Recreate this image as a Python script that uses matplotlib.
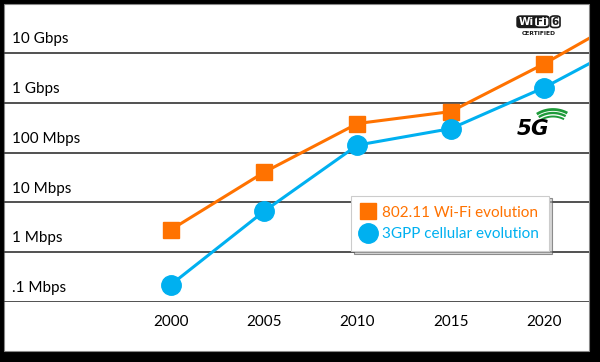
import matplotlib
matplotlib.use("Agg")
import matplotlib.pyplot as plt
from matplotlib.lines import Line2D
from matplotlib.patches import Rectangle, FancyBboxPatch
import numpy as np

# ---- data ----
years = [2000, 2005, 2010, 2015, 2020]
wifi_mbps = [1.4, 20, 190, 330, 3000]
cell_mbps = [0.11, 3.3, 70, 150, 1000]
edge_year = 2022.4
wifi_edge_mbps = 9700
cell_edge_mbps = 3000

ytick_vals = [0.1, 1, 10, 100, 1000, 10000]
ytick_labels = [".1 Mbps", "1 Mbps", "10 Mbps", "100 Mbps", "1 Gbps", "10 Gbps"]
xtick_vals = [2000, 2005, 2010, 2015, 2020]
xtick_labels = ["2000", "2005", "2010", "2015", "2020"]
wifi_label = "802.11 Wi-Fi evolution"
cell_label = "3GPP cellular evolution"

ORANGE = "#FF7200"
BLUE = "#00B0F0"
FONT = "Lato"

W, H = 600, 362
fig = plt.figure(figsize=(6, 3.62), dpi=100, facecolor="black")

def fx(px):
    return px / W

def fy(py):
    return 1 - py / H

# white panel
bg = Rectangle((fx(4), fy(351)), fx(589) - fx(4), fy(4) - fy(351),
               transform=fig.transFigure, facecolor="white",
               edgecolor="#888888", linewidth=0.8, zorder=-10)
fig.add_artist(bg)

ax = fig.add_axes([fx(4), fy(302), fx(589) - fx(4), fy(4) - fy(302)])
ax.set_zorder(5)
ax.set_facecolor("none")
ax.set_yscale("log")
ax.set_ylim(10 ** -1.307, 10 ** 4.68)
ax.set_xlim(1991.05, 2022.41)
for s in ax.spines.values():
    s.set_visible(False)

# band lines
for v in ytick_vals:
    ax.axhline(v * 10 ** -0.307, color="#333333", linewidth=1.2, zorder=1)

# series
wx = years + [edge_year]
ax.plot(wx, wifi_mbps + [wifi_edge_mbps], color=ORANGE, linewidth=2.2, zorder=3)
ax.plot(years, wifi_mbps, linestyle="none", marker="s", markersize=12, color=ORANGE, zorder=4)
ax.plot(wx, cell_mbps + [cell_edge_mbps], color=BLUE, linewidth=2.2, zorder=3)
ax.plot(years, cell_mbps, linestyle="none", marker="o", markersize=14, color=BLUE, zorder=4)

# ticks
ax.set_yticks(ytick_vals)
ax.set_yticklabels(ytick_labels, fontsize=11, family=FONT)
ax.yaxis.set_minor_locator(matplotlib.ticker.NullLocator())
ax.tick_params(axis="y", length=0, pad=-6)
for t in ax.get_yticklabels():
    t.set_horizontalalignment("left")
ax.set_xticks(xtick_vals)
ax.set_xticklabels(xtick_labels, fontsize=11, family=FONT)
ax.tick_params(axis="x", length=0, pad=9)

# legend
handles = [Line2D([], [], linestyle="none", marker="s", markersize=12, color=ORANGE),
           Line2D([], [], linestyle="none", marker="o", markersize=14, color=BLUE)]
leg = ax.legend(handles, [wifi_label, cell_label], loc="upper left",
                bbox_to_anchor=(0.594, 0.357), borderaxespad=0, frameon=True,
                fancybox=False, shadow={"ox": 2, "oy": -2, "facecolor": "#bbbbbb", "alpha": 0.6},
                edgecolor="#cccccc",
                prop={"family": FONT, "size": 11}, handlelength=0.9,
                handletextpad=0.45, labelspacing=0.5, borderpad=0.65)
leg.get_frame().set_linewidth(0.8)
for txt, c in zip(leg.get_texts(), [ORANGE, BLUE]):
    txt.set_color(c)

# Wi-Fi 6 certified logo (approximation)
def rbox(x0, y0, x1, y1, fc, ec, lw=1.0, z=1):
    fig.add_artist(FancyBboxPatch((fx(x0), fy(y1)), fx(x1) - fx(x0), fy(y0) - fy(y1),
                                  boxstyle="round,pad=0,rounding_size=0.006",
                                  transform=fig.transFigure, facecolor=fc, edgecolor=ec,
                                  linewidth=lw, zorder=z))

rbox(517, 16, 549, 27.5, "#1a1a1a", "#1a1a1a", z=1)
rbox(535.5, 17.5, 548, 26, "white", "white", lw=0.5, z=2)
rbox(550.5, 16, 560, 27.5, "white", "#1a1a1a", lw=1.2, z=1)
fig.text(fx(526), fy(21.8), "Wi", color="white", fontsize=7.5, fontweight="bold",
         ha="center", va="center", family="DejaVu Sans", zorder=3)
fig.text(fx(541.8), fy(21.8), "Fi", color="#1a1a1a", fontsize=7.5, fontweight="bold",
         ha="center", va="center", family="DejaVu Sans", zorder=3)
fig.text(fx(555.3), fy(21.8), "6", color="#1a1a1a", fontsize=7.5, fontweight="bold",
         ha="center", va="center", family="DejaVu Sans", zorder=3)
fig.text(fx(538.5), fy(33.5), "CERTIFIED", color="#1a1a1a", fontsize=4.3, fontweight="bold",
         ha="center", va="center", family="DejaVu Sans")

# 5G logo (approximation)
fig.text(fx(533), fy(128.5), "5G", color="black", fontsize=15.5, fontweight="bold",
         style="italic", ha="center", va="center", family="DejaVu Sans")
th = np.radians(np.linspace(62, 122, 40))
for r, lw in [(23.5, 1.4), (27, 1.7), (30.5, 2.0)]:
    xs = 553 + r * np.cos(th)
    ys = 140 - r * np.sin(th)
    fig.add_artist(Line2D(fx(xs), fy(ys), transform=fig.transFigure,
                          color="#1E9B3A", linewidth=lw, solid_capstyle="butt"))

fig.savefig("out.png", dpi=100, facecolor="black")
